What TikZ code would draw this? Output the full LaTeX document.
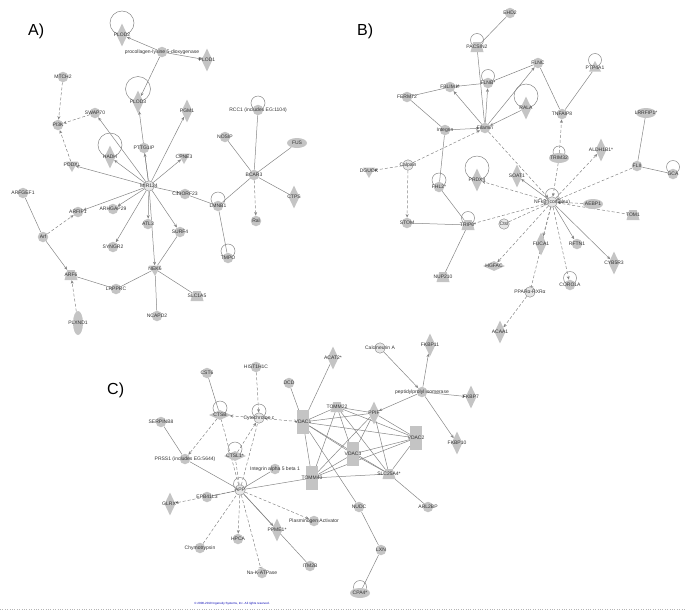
\documentclass[tikz,border=0pt]{standalone}
\usepackage{fontspec}
\setmainfont{Liberation Sans}
\usetikzlibrary{shapes.geometric,arrows.meta,backgrounds}

\definecolor{ngray}{HTML}{C4C4C4}
\definecolor{egray}{HTML}{858585}
\definecolor{lgray}{HTML}{E6E6E6}

\tikzset{
  lbl/.style={font=\fontsize{5}{5}\selectfont, text=black!80, inner sep=0pt},
  base/.style={fill=ngray, inner sep=0pt, label={[lbl]center:#1}},
  gcirc/.style={base={#1}, circle, minimum size=10.5pt},
  grp/.style={base={#1}, circle, minimum size=10.5pt, fill=lgray, draw=egray, line width=0.4pt},
  gdiam/.style={base={#1}, diamond, minimum width=11pt, minimum height=23pt},
  hdiam/.style={base={#1}, diamond, minimum width=22pt, minimum height=10pt},
  hell/.style={base={#1}, ellipse, minimum width=20pt, minimum height=10pt},
  vell/.style={base={#1}, ellipse, minimum width=10pt, minimum height=24pt},
  gtrap/.style={base={#1}, trapezium, trapezium angle=70, trapezium stretches=true, inner sep=1pt, minimum width=13pt, minimum height=10pt},
  dtri/.style={base={#1}, regular polygon, regular polygon sides=3, shape border rotate=180, minimum size=14pt},
  utri/.style={base={#1}, regular polygon, regular polygon sides=3, minimum size=14pt},
  vrect/.style={base={#1}, rectangle, minimum width=12pt, minimum height=24pt},
  ln/.style={draw=egray, line width=0.5pt},
  arr/.style={ln, -{Stealth[length=3.5pt,width=3pt]}},
  dln/.style={ln, dash pattern=on 3pt off 2pt},
  darr/.style={dln, -{Stealth[length=3.5pt,width=3pt]}},
  dbar/.style={dln, -{Bar[width=4pt]}},
  lp/.style={draw=egray, line width=0.5pt},
  panel/.style={font=\fontsize{16}{16}\selectfont, inner sep=0pt, anchor=west}
}

\begin{document}
\begin{tikzpicture}[x=1pt,y=-1pt]
\useasboundingbox (0,0) rectangle (685,611);

% panel labels
\node[panel] (pa) at (28,31) {A)};
\node[panel] (pb) at (357,31) {B)};
\node[panel] (pc) at (107,390) {C)};

% ---------------- A ----------------
\node[gdiam=PLOD2] (plodb) at (122,35) {};
\node[gcirc={procollagen-lysine 5-dioxygenase}] (procol) at (162,52) {};
\node[gdiam=PLOD1] (ploda) at (207,60) {};
\node[gdiam=PLOD3] (plodc) at (138,102) {};
\node[gcirc=MTCH2] (mtch) at (63,77) {};
\node[gcirc=PI3K] (pik) at (58,125) {};
\node[gcirc=SWAP70] (swap) at (95,113) {};
\node[gdiam=PGM1] (pgm) at (187,111) {};
\node[gcirc=PTTG1IP] (pttg) at (144,148) {};
\node[gdiam=HADH] (hadh) at (110,157) {};
\node[dtri=PODXL] (podxl) at (72,165) {};
\node[dtri=CPNE3] (cpne) at (184,157) {};
\node[grp=MIR124] (mir) at (149,186) {};
\node[gcirc=C19ORF23] (corf) at (185,194) {};
\node[gcirc=LMNB1] (lmnb) at (218,206) {};
\node[gcirc=ARFGEF1] (arfgef) at (23,193) {};
\node[gcirc=ARFIP1] (arfip) at (78,212) {};
\node[gcirc=ARHGAP29] (arhgap) at (113,209) {};
\node[gcirc=ATL3] (atl) at (148,224) {};
\node[gcirc=SURF4] (surf) at (180,232) {};
\node[gcirc=Arf] (arf) at (43,237) {};
\node[gcirc=SYNGR2] (syngr) at (113,247) {};
\node[gtrap=ARF6] (arfsix) at (71,275) {};
\node[dtri=NEK6] (nek) at (155,269) {};
\node[gcirc=LRPPRC] (lrpprc) at (116,289) {};
\node[gtrap=SLC1A5] (slc) at (197,296) {};
\node[gcirc=NCAPD2] (ncapd) at (157,316) {};
\node[vell=PLXND1] (plxnd) at (78,323) {};
\node[gcirc={RCC1 (includes EG:1104)}] (rcc) at (258,110) {};
\node[gcirc=NOSIP] (nosip) at (225,137) {};
\node[hell=FUS] (fus) at (297,143) {};
\node[gcirc=BCAR3] (bcar) at (254,175) {};
\node[gdiam=CTPS] (ctps) at (294,197) {};
\node[gcirc=Ral] (ral) at (256,221) {};
\node[gcirc=TMPO] (tmpo) at (228,258) {};

% ---------------- B ----------------
\node[gcirc=EHD2] (ehd) at (510,13) {};
\node[gtrap=PACSIN2] (pacsin) at (477,47) {};
\node[gcirc=FLNC] (flnc) at (538,63) {};
\node[gcirc=FLNB*] (flnb) at (488,83) {};
\node[gcirc=FBLIM1*] (fblim) at (450,87) {};
\node[gcirc=FERMT2] (fermt) at (407,97) {};
\node[gcirc=Integrin] (integ) at (445,130) {};
\node[gcirc=Filamin] (filamin) at (485,128) {};
\node[gdiam=RALA] (rala) at (526,108) {};
\node[utri=PTP4A1] (ptp) at (595,68) {};
\node[gcirc=TNFAIP8] (tnf) at (562,114) {};
\node[hell=LRRFIP1*] (lrrfip) at (646,113) {};
\node[hell=TRIM32] (trim) at (559,158) {};
\node[gdiam=ALDH1B1*] (aldh) at (601,150) {};
\node[gcirc=FLII] (flii) at (637,166) {};
\node[gcirc=GCA] (gca) at (673,174) {};
\node[gdiam=SOAT1] (soat) at (517,176) {};
\node[grp=Calpain] (calpain) at (408,165) {};
\node[dtri=DGUOK] (dguok) at (369,171) {};
\node[gcirc=FHL2*] (fhl) at (439,187) {};
\node[gdiam=PRDX4] (prdx) at (477,180) {};
\node[grp={NFkB (complex)}] (nfkb) at (552,202) {};
\node[hell=AEBP1] (aebp) at (593,204) {};
\node[gtrap=TOM1] (tom) at (633,215) {};
\node[gcirc=STOM] (stom) at (407,223) {};
\node[gtrap=TRIP6*] (trip) at (468,225) {};
\node[grp=Ctsl] (ctsl) at (504,224) {};
\node[gtrap=NUP210] (nup) at (443,277) {};
\node[hdiam=HGFAC] (hgfac) at (494,266) {};
\node[gdiam=FUCA1] (fuca) at (541,244) {};
\node[gcirc=RFTN1] (rftn) at (577,244) {};
\node[gdiam=CYB5R3] (cyb) at (614,263) {};
\node[gcirc=CORO1A] (coro) at (570,285) {};
\node[grp=PPARα-RXRα] (ppar) at (530,292) {};
\node[gdiam=ACAA1] (acaa) at (500,332) {};

% ---------------- C ----------------
\node[gcirc=SERPINB8] (serpin) at (161,422) {};
\node[gcirc={PRSS1 (includes EG:5644)}] (prss) at (185,459) {};
\node[gdiam=GLRX*] (glrx) at (170,504) {};
\node[gcirc=Chymotrypsin] (chymo) at (200,548) {};
\node[gcirc=CST6] (cst) at (207,373) {};
\node[gcirc=HIST1H1C] (hist) at (256,367) {};
\node[hdiam=CTSB] (ctsb) at (220,415) {};
\node[grp={Cytochrome c}] (cytc) at (259,418) {};
\node[hdiam=CTSL1*] (ctslone) at (235,456) {};
\node[gcirc={Integrin alpha 5 beta 1}] (itga) at (275,469) {};
\node[grp=APP] (app) at (240,490) {};
\node[gcirc=EPB41L3] (epb) at (207,497) {};
\node[gcirc=HPCA] (hpca) at (238,539) {};
\node[gdiam=PPME1*] (ppme) at (277,530) {};
\node[gcirc={Plasminogen Activator}] (plasm) at (314,521) {};
\node[gcirc=ITM2B] (itm) at (310,566) {};
\node[gcirc=Na-K-ATPase] (nak) at (262,573) {};
\node[gcirc=DCD] (dcd) at (289,383) {};
\node[vrect=VDAC1] (vdaca) at (303,422) {};
\node[vrect=TOMM40] (tomf) at (312,478) {};
\node[gtrap=TOMM22] (tomt) at (337,407) {};
\node[gdiam=PPIF] (ppif) at (374,413) {};
\node[vrect=VDAC2] (vdacb) at (416,438) {};
\node[vrect=VDAC3] (vdacc) at (353,454) {};
\node[gtrap=SLC25A4*] (slctf) at (389,474) {};
\node[gcirc=NUDC] (nudc) at (359,507) {};
\node[gcirc=ARL2BP] (arl) at (428,507) {};
\node[gcirc=LXN] (lxn) at (381,550) {};
\node[hell=CPA4*] (cpa) at (360,593) {};
\node[gcirc={peptidylprolyl isomerase}] (ppi) at (422,392) {};
\node[gdiam=FKBP7] (fkbps) at (471,397) {};
\node[gdiam=FKBP10] (fkbpt) at (457,443) {};
\node[grp={Calcineurin A}] (calc) at (380,348) {};
\node[gdiam=FKBP11] (fkbpe) at (430,345) {};
\node[gdiam=ACAT2*] (acat) at (333,358) {};

% footer
\node[font=\fontsize{3}{3}\selectfont, text=blue!70!black, inner sep=0pt] (copy) at (232,604) {© 2000-2010 Ingenuity Systems, Inc. All rights reserved.};

\begin{scope}[on background layer]
  % self loops
  \draw[lp] ([yshift=12pt]plodb.center) circle (12pt);
  \draw[lp] ([yshift=13pt]plodc.center) circle (12.5pt);
  \draw[lp] ([yshift=12pt]hadh.center) circle (12pt);
  \draw[lp] ([yshift=7pt]lmnb.center) circle (7pt);
  \draw[lp] ([yshift=7pt]tmpo.center) circle (7pt);
  \draw[lp] ([yshift=7pt]rcc.center) circle (7pt);
  \draw[lp] ([yshift=7pt]pacsin.center) circle (6.5pt);
  \draw[lp] ([yshift=7pt]flnb.center) circle (6.5pt);
  \draw[lp] ([yshift=12pt]rala.center) circle (12pt);
  \draw[lp] ([yshift=8pt]ptp.center) circle (6.5pt);
  \draw[lp] ([yshift=6pt]trim.center) circle (6pt);
  \draw[lp] ([yshift=7pt]gca.center) circle (6.5pt);
  \draw[lp] ([yshift=12pt]prdx.center) circle (12pt);
  \draw[lp] ([yshift=7pt]fhl.center) circle (7pt);
  \draw[lp] ([yshift=7pt]trip.center) circle (6.5pt);
  \draw[lp] ([yshift=7pt]nfkb.center) circle (6.5pt);
  \draw[lp] ([yshift=7pt]coro.center) circle (6.5pt);
  \draw[lp] ([yshift=7pt]ctsb.center) circle (7pt);
  \draw[lp] ([yshift=7pt]cytc.center) circle (7pt);
  \draw[lp] ([yshift=7pt]ctslone.center) circle (7pt);
  \draw[lp] ([yshift=6pt]app.center) circle (6.5pt);
  \draw[lp] ([yshift=6pt]cpa.center) circle (6.5pt);

  % A
  \draw[arr] (procol) -- (plodb);
  \draw[arr] (procol) -- (ploda);
  \draw[arr] (procol) -- (plodc);
  \draw[darr] (mtch) -- (pik);
  \draw[darr] (swap) -- (pik);
  \draw[darr] (podxl) -- (pik);
  \draw[arr] (mir) -- (podxl);
  \draw[arr] (mir) -- (hadh);
  \draw[arr] (mir) -- (swap);
  \draw[arr] (mir) -- (plodc);
  \draw[arr] (mir) -- (pttg);
  \draw[arr] (mir) -- (pgm);
  \draw[arr] (mir) -- (cpne);
  \draw[arr] (mir) -- (corf);
  \draw[ln] (corf) -- (lmnb);
  \draw[arr] (mir) -- (arfip);
  \draw[arr] (mir) -- (arhgap);
  \draw[arr] (mir) -- (atl);
  \draw[arr] (mir) -- (surf);
  \draw[arr] (mir) -- (syngr);
  \draw[arr] (mir) -- (nek);
  \draw[ln] (surf) -- (nek);
  \draw[ln] (nek) -- (lrpprc);
  \draw[ln] (nek) -- (slc);
  \draw[ln] (nek) -- (ncapd);
  \draw[ln] (lrpprc) -- (arfsix);
  \draw[ln] (arfgef) -- (arf);
  \draw[arr] (arf) -- (arfsix);
  \draw[darr] (arf) -- (arfip);
  \draw[darr] (plxnd) -- (arfsix);
  \draw[ln] (bcar) -- (rcc);
  \draw[ln] (bcar) -- (nosip);
  \draw[ln] (bcar) -- (fus);
  \draw[ln] (bcar) -- (ctps);
  \draw[ln] (bcar) -- (lmnb);
  \draw[darr] (bcar) -- (ral);
  \draw[ln] (lmnb) -- (tmpo);

  % B
  \draw[ln] (ehd) -- (pacsin);
  \draw[ln] (pacsin) -- (filamin);
  \draw[arr] (filamin) -- (flnb);
  \draw[arr] (filamin) -- (fblim);
  \draw[arr] (flnb) -- (fblim);
  \draw[ln] (flnb) -- (flnc);
  \draw[ln] (fermt) -- (fblim);
  \draw[ln] (fermt) -- (integ);
  \draw[arr] (integ) -- (filamin);
  \draw[arr] (filamin) -- (flnc);
  \draw[arr] (rala) -- (filamin);
  \draw[ln] (flnc) -- (tnf);
  \draw[ln] (ptp) -- (tnf);
  \draw[darr] (trim) -- (tnf);
  \draw[darr] (calpain) -- (filamin);
  \draw[darr] (calpain) -- (dguok);
  \draw[darr] (calpain) -- (stom);
  \draw[ln] (integ) -- (fhl);
  \draw[ln] (fhl) -- (trip);
  \draw[ln] (stom) -- (trip);
  \draw[ln] (trip) -- (nup);
  \draw[darr] (trip) -- (nfkb);
  \draw[darr] (filamin) -- (nfkb);
  \draw[darr] (nfkb) -- (prdx);
  \draw[arr] (nfkb) -- (soat);
  \draw[darr] (trim) -- (nfkb);
  \draw[darr] (nfkb) -- (aldh);
  \draw[darr] (flii) -- (nfkb);
  \draw[ln] (flii) -- (lrrfip);
  \draw[ln] (flii) -- (gca);
  \draw[darr] (aebp) -- (nfkb);
  \draw[dln] (nfkb) -- (tom);
  \draw[darr] (nfkb) -- (fuca);
  \draw[arr] (nfkb) -- (rftn);
  \draw[arr] (nfkb) -- (cyb);
  \draw[darr] (nfkb) -- (hgfac);
  \draw[darr] (nfkb) -- (coro);
  \draw[dln] (ctsl) -- (nfkb);
  \draw[dbar] (nfkb) -- (ppar);
  \draw[darr] (ppar) -- (acaa);

  % C
  \draw[ln] (serpin) -- (prss);
  \draw[darr] (ctsb) -- (prss);
  \draw[darr] (cytc) -- (ctsb);
  \draw[darr] (vdaca) -- (cytc);
  \draw[darr] (hist) -- (cytc);
  \draw[ln] (cst) -- (ctsb);
  \draw[darr] (ctslone) -- (cytc);
  \draw[dln] (app) -- (ctsb);
  \draw[dln] (app) -- (cytc);
  \draw[dln] (app) -- (ctslone);
  \draw[ln] (prss) -- (app);
  \draw[ln] (itga) -- (app);
  \draw[ln] (app) -- (tomf);
  \draw[ln] (epb) -- (app);
  \draw[darr] (app) -- (glrx);
  \draw[darr] (app) -- (hpca);
  \draw[darr] (app) -- (plasm);
  \draw[arr] (app) -- (ppme);
  \draw[ln] (app) -- (itm);
  \draw[dln] (chymo) -- (app);
  \draw[dbar] (app) -- (nak);
  \draw[ln] (dcd) -- (vdaca);
  \draw[ln] (acat) -- (vdaca);
  \draw[ln] (vdaca) -- (tomt);
  \draw[ln] (vdaca) -- (ppif);
  \draw[ln] (vdaca) -- (vdacb);
  \draw[ln] (vdaca) -- (vdacc);
  \draw[ln] (vdaca) -- (tomf);
  \draw[ln] (vdaca) -- (slctf);
  \draw[ln] (tomt) -- (ppif);
  \draw[ln] (tomt) -- (vdacb);
  \draw[ln] (tomt) -- (vdacc);
  \draw[ln] (tomt) -- (tomf);
  \draw[ln] (tomt) -- (slctf);
  \draw[ln] (ppif) -- (vdacb);
  \draw[ln] (ppif) -- (vdacc);
  \draw[ln] (ppif) -- (tomf);
  \draw[ln] (ppif) -- (slctf);
  \draw[ln] (vdacb) -- (vdacc);
  \draw[ln] (vdacb) -- (tomf);
  \draw[ln] (vdacb) -- (slctf);
  \draw[ln] (vdacc) -- (tomf);
  \draw[ln] (vdacc) -- (slctf);
  \draw[ln] (tomf) -- (slctf);
  \draw[arr] (ppi) -- (ppif);
  \draw[ln] (vdaca) -- (nudc);
  \draw[ln] (nudc) -- (lxn);
  \draw[ln] (lxn) -- (cpa);
  \draw[ln] (slctf) -- (arl);
  \draw[arr] (calc) -- (ppi);
  \draw[arr] (ppi) -- (fkbpe);
  \draw[arr] (ppi) -- (fkbps);
  \draw[arr] (ppi) -- (fkbpt);
\end{scope}

% footer rule
\draw[egray!60, dotted, line width=0.4pt] (0,609) -- (685,609);
\end{tikzpicture}
\end{document}
